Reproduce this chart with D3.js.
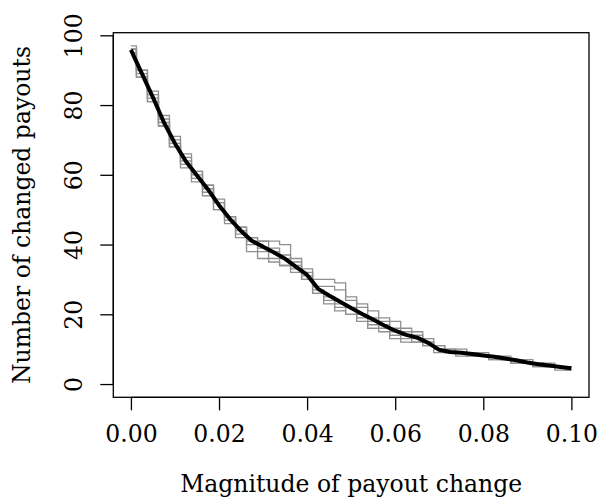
<!DOCTYPE html>
<html>
<head>
<meta charset="utf-8">
<script src="https://cdn.jsdelivr.net/npm/d3@7"></script>
<style>
body{margin:0;background:#fff;}
text{font-family:"DejaVu Serif",serif;fill:#000;}
</style>
</head>
<body>
<div id="chart"></div>
<script>
//magnitude grid shared by every series
const magnitude=d3.range(41).map(i=>i*0.0025);
//mean number of changed payouts (black line)
const meanPayouts=[95.8,89,82.2,75,69,63.8,59.8,55.8,51.3,47.3,43.9,41,39.4,37.7,35.9,33.6,31.3,27.3,25.4,23.6,21.8,20.1,18.5,16.8,15.3,14.1,13.3,11.8,9.8,9.2,9.0,8.6,8.2,7.8,7.3,6.8,6.2,5.7,5.3,4.9,4.5];
//single runs (grey steps)
const run1=[97,90,84,77,71,66,61,57,53,48,45,42,41,41,40,36,33,30,30,29,24,22,19,18,16,15,14,13,11,10,10,9,9,8,8,7,7,6,6,5,5];
const run2=[96,89,82,75,68,63,59,55,50,47,43,40,38,36,34,32,30,26,23,21,20,18,16,15,13,12,12,11,10,9,9,9,8,8,7,7,6,6,5,5,4];
const run3=[96,88,81,74,69,64,60,56,52,48,44,41,39,38,36,34,31,27,25,23,22,20,18,17,15,14,13,12,10,9,9,8,8,7,7,6,6,5,5,5,4];
const run4=[95,88,81,74,68,62,58,54,50,46,42,38,36,35,34,33,30,26,24,22,20,19,17,16,14,13,12,11,9,9,8,8,8,7,7,6,6,5,5,4,4];
const run5=[96,90,83,76,70,65,61,57,52,48,45,42,41,39,37,35,32,28,28,27,25,23,21,19,18,16,15,12,11,10,9,9,8,8,7,7,6,6,5,5,5];
const runs=[run1,run2,run3,run4,run5];
const xTicks=[0,0.02,0.04,0.06,0.08,0.10];
const yTicks=[0,20,40,60,80,100];

const width=605;
const height=498;
const plotLeft=113.3,plotRight=589,plotTop=32.7,plotBottom=397.3;
const fontSize=23.5;

const svg=d3.select("#chart")
          .append("svg")
          .attr("width",width)
          .attr("height",height);

const x=d3.scaleLinear().domain([-0.004,0.104]).range([plotLeft,plotRight]);
const y=d3.scaleLinear().domain([-3.8,100.75]).range([plotBottom,plotTop]);

//grey runs as step lines
const stepLine=d3.line()
    .x((d,i)=>x(magnitude[i]))
    .y(d=>y(d))
    .curve(d3.curveStep);

svg.append("g")
    .selectAll("path")
    .data(runs)
    .enter()
    .append("path")
    .attr("d",stepLine)
    .attr("fill","none")
    .attr("stroke","#909090")
    .attr("stroke-width",1.3);

//mean line
const meanLine=d3.line()
    .x((d,i)=>x(magnitude[i]))
    .y(d=>y(d));

svg.append("path")
    .datum(meanPayouts)
    .attr("d",meanLine)
    .attr("fill","none")
    .attr("stroke","#000")
    .attr("stroke-width",4)
    .attr("stroke-linejoin","round");

//box round the plot
svg.append("rect")
    .attr("x",plotLeft)
    .attr("y",plotTop)
    .attr("width",plotRight-plotLeft)
    .attr("height",plotBottom-plotTop)
    .attr("fill","none")
    .attr("stroke","#000")
    .attr("stroke-width",1.3);

//x axis
const xAxis=svg.append("g")
    .attr("transform",`translate(0,${plotBottom})`)
    .call(d3.axisBottom(x).tickValues(xTicks).tickFormat(d3.format(".2f")).tickSize(13).tickPadding(15));
xAxis.select(".domain").attr("d",`M${x(0)},0H${x(0.1)}`).attr("stroke-width",1.3);
xAxis.selectAll(".tick line").attr("stroke-width",1.3);
xAxis.selectAll("text").attr("font-size",fontSize).attr("font-family","DejaVu Serif");

//y axis with rotated labels
const yAxis=svg.append("g")
    .attr("transform",`translate(${plotLeft},0)`)
    .call(d3.axisLeft(y).tickValues(yTicks).tickSize(13).tickFormat(d3.format("d")));
yAxis.select(".domain").attr("d",`M0,${y(0)}V${y(100)}`).attr("stroke-width",1.3);
yAxis.selectAll(".tick line").attr("stroke-width",1.3);
yAxis.selectAll("text")
    .attr("font-size",fontSize)
    .attr("font-family","DejaVu Serif")
    .attr("x",null).attr("dy",null)
    .attr("text-anchor","middle")
    .attr("transform",`translate(${82-plotLeft},0) rotate(-90)`);

//axis titles
svg.append("text")
    .attr("x",(plotLeft+plotRight)/2)
    .attr("y",492)
    .attr("text-anchor","middle")
    .attr("font-size",fontSize)
    .text("Magnitude of payout change");

svg.append("text")
    .attr("transform",`translate(30,${(plotTop+plotBottom)/2}) rotate(-90)`)
    .attr("text-anchor","middle")
    .attr("font-size",fontSize)
    .text("Number of changed payouts");
</script>
</body>
</html>
